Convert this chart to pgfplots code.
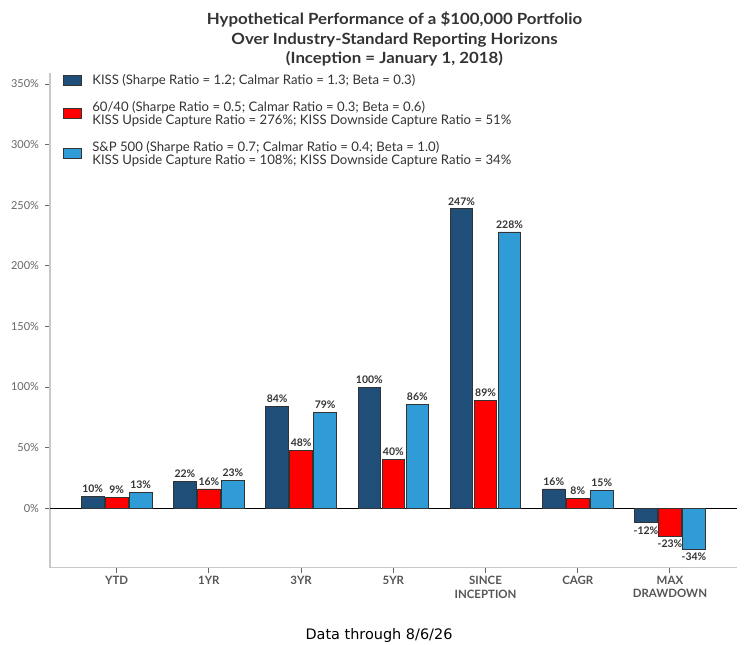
\documentclass[border=0pt]{standalone}
\usepackage{pgfplots}
\pgfplotsset{compat=1.18}
\usepackage{fontspec}
\setmainfont{Lato}
\newfontfamily\titlefont[FakeStretch=1.09]{Lato}
\newfontfamily\dejavu{DejaVu Sans}
\newcommand\legfont{\fontsize{13.2}{13}\selectfont\lineskiplimit=-20pt\relax}
\definecolor{kiss}{HTML}{1F4E79}
\definecolor{sixty}{HTML}{FF0000}
\definecolor{spx}{HTML}{2F9BD7}
\definecolor{txt}{HTML}{333333}
\definecolor{tickc}{HTML}{666666}
\definecolor{xlab}{HTML}{555555}
\definecolor{spine}{HTML}{C8C8C8}
\pgfplotsset{
  mybar/.style={draw=txt, line width=0.8bp,
    legend image code/.code={\draw[##1, line width=0.8bp] (0bp,-5bp) rectangle (18bp,5bp);}},
}
\begin{document}
\begin{tikzpicture}[x=1bp,y=1bp]
\useasboundingbox (0,0) rectangle (755,645);
\begin{axis}[
  at={(50bp,77.3bp)}, anchor=south west, scale only axis,
  width=687bp, height=494.7bp,
  xmin=-0.723, xmax=6.727, ymin=-49, ymax=359.1,
  axis x line*=bottom, axis y line*=left,
  axis line style={spine, line width=1.3bp, -},
  tick style={tickc, line width=1bp},
  major tick length=5bp, tick align=outside,
  xtick={0,1,2,3,4,5,6},
  xticklabels={YTD,1YR,3YR,5YR,{SINCE\\INCEPTION},CAGR,{MAX\\DRAWDOWN}},
  xticklabel style={align=center, font=\bfseries\fontsize{11.5}{13.5}\selectfont, text=xlab},
  ytick={0,50,...,350},
  yticklabel={\pgfmathprintnumber{\tick}\%},
  yticklabel style={font=\fontsize{11}{13}\selectfont, text=tickc, xshift=-2.5bp},
  /pgf/number format/assume math mode=true,
  extra y ticks={0}, extra y tick labels={},
  extra y tick style={grid=major, major grid style={black, line width=1.4bp}, tick style={draw=none}},
  ybar, bar width=22.5bp,
  nodes near coords={\pgfmathprintnumber{\pgfplotspointmeta}\%},
  every node near coord/.append style={font=\bfseries\fontsize{10.5}{12}\selectfont, text=txt},
  legend style={at={(0.0189,1.0017)}, anchor=north west, draw=none, fill=none,
    inner sep=0pt, outer sep=0pt, row sep=11.5bp, column sep=8.5bp,
    font=\legfont, text=txt, cells={anchor=west, align=left, inner sep=0pt}},
]
\addplot[mybar, fill=kiss, bar shift=-24bp] coordinates {(0,10) (1,22) (2,84) (3,100) (4,247) (5,16) (6,-12)};
\addlegendentry{KISS (Sharpe Ratio = 1.2; Calmar Ratio = 1.3; Beta = 0.3)}
\addplot[mybar, fill=sixty, bar shift=0bp] coordinates {(0,9) (1,16) (2,48) (3,40) (4,89) (5,8) (6,-23)};
\addlegendentry{60/40 (Sharpe Ratio = 0.5; Calmar Ratio = 0.3; Beta = 0.6)\\KISS Upside Capture Ratio = 276\%; KISS Downside Capture Ratio = 51\%}
\addplot[mybar, fill=spx, bar shift=24bp] coordinates {(0,13) (1,23) (2,79) (3,86) (4,228) (5,15) (6,-34)};
\addlegendentry{S\&P 500 (Sharpe Ratio = 0.7; Calmar Ratio = 0.4; Beta = 1.0)\\KISS Upside Capture Ratio = 108\%; KISS Downside Capture Ratio = 34\%}
\end{axis}
\node[anchor=north, align=center, inner sep=0pt, font=\titlefont\bfseries\fontsize{15.5}{19.5}\selectfont, text=txt] at (394.5,633) {Hypothetical Performance of a \$100,000 Portfolio\\Over Industry-Standard Reporting Horizons\\(Inception = January 1, 2018)};
\node[anchor=base, inner sep=0pt, font=\dejavu\fontsize{14.5}{17}\selectfont] at (379,5.7) {Data through 8/6/26};
\end{tikzpicture}
\end{document}
